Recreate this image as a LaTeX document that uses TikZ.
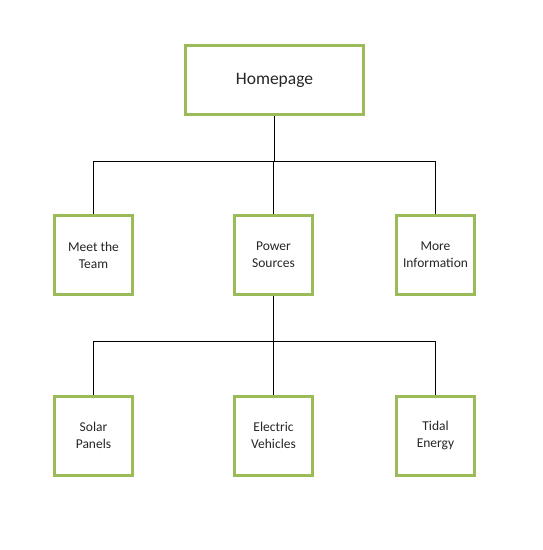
\documentclass[tikz,border=0pt]{standalone}
\usepackage{fontspec}
\setmainfont{Carlito}
\definecolor{boxgreen}{HTML}{9BBB59}
\begin{document}
\begin{tikzpicture}[x=1pt,y=-1pt,
  box/.style={draw=boxgreen,line width=3pt,fill=white,minimum width=78pt,minimum height=79pt,align=center,inner sep=0pt,font=\fontsize{13.5}{17}\selectfont,text=black!85},
  link/.style={draw=black,line width=1pt}]
\useasboundingbox (0,0) rectangle (543,550);
\node[box,minimum width=178pt,minimum height=69pt,font=\fontsize{17.5}{20}\selectfont] (home) at (274.5,80) {Homepage};
\node[box] (team) at (93.5,255) {Meet the\\Team};
\node[box] (power) at (273.5,255) {Power\\Sources};
\node[box] (info) at (435.5,255) {More\\Information};
\node[box] (solar) at (93.5,435.5) {Solar\\Panels};
\node[box] (ev) at (273.5,435.5) {Electric\\Vehicles};
\node[box] (tidal) at (435.5,435.5) {Tidal\\Energy};
\coordinate (j1) at (274,161);
\coordinate (j2) at (274,341);
\draw[link] (home.south) -- (home.south |- j1);
\draw[link] (team.north) -- (team.north |- j1) -- (info.north |- j1) -- (info.north);
\draw[link] (power.north) -- (power.north |- j1);
\draw[link] (power.south) -- (power.south |- j2);
\draw[link] (solar.north) -- (solar.north |- j2) -- (tidal.north |- j2) -- (tidal.north);
\draw[link] (ev.north) -- (ev.north |- j2);
\end{tikzpicture}
\end{document}
